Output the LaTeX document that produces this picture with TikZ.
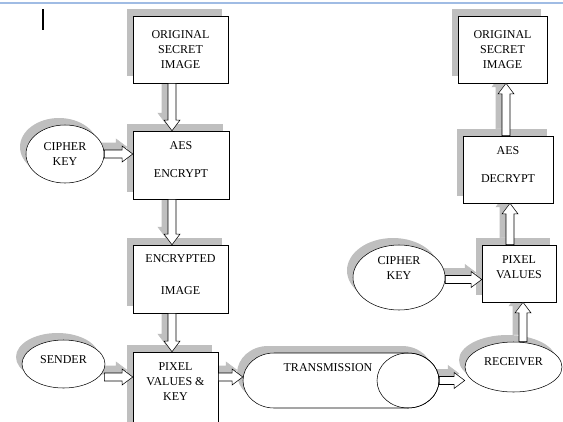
\documentclass[tikz,border=0pt]{standalone}
\usepackage{fontspec}
\setmainfont{Liberation Serif}
\usetikzlibrary{shapes.geometric,shadows,calc,backgrounds}
\definecolor{topline}{RGB}{160,188,228}

\begin{document}
\begin{tikzpicture}[x=0.75pt,y=-0.75pt,
  font=\fontsize{9}{11.25}\selectfont,
  grey/.style={drop shadow={shadow xshift=-4.5pt,shadow yshift=5.25pt,fill=black!25,opacity=1}},
  box/.style={draw,fill=white,grey,align=center,inner sep=0pt},
  oval/.style={ellipse,draw,fill=white,grey,align=center,inner sep=0pt},
  blockarrow/.style={draw,fill=white,to path={let \p1=(\tikztostart),\p2=(\tikztotarget),\p3=($(\p2)!8pt!(\p1)$) in
    ($(\p1)!3pt!90:(\p2)$) -- ($(\p3)!3pt!-90:(\p1)$) -- ($(\p3)!6pt!-90:(\p1)$) -- (\p2)
    -- ($(\p3)!6pt!90:(\p1)$) -- ($(\p3)!3pt!90:(\p1)$) -- ($(\p1)!3pt!-90:(\p2)$) -- cycle}},
  arrowshadow/.style={blockarrow,draw=black!25,fill=black!25,transform canvas={shift={(-4.5pt,5.25pt)}}}
]
\useasboundingbox (0,0) rectangle (563,421);
\draw[color=topline,line width=1.5pt] (0,3) -- (563,3);
\draw[line width=0.9pt] (43,9) -- (43,30);

\node[box,minimum width=71.25pt,minimum height=50.25pt] (origL) at (180.5,49.5) {ORIGINAL\\SECRET\\IMAGE};
\node[box,minimum width=72pt,minimum height=51pt,text depth=8pt] (aesE) at (181,165) {AES\\[9.75pt]ENCRYPT};
\node[box,minimum width=71.25pt,minimum height=51pt,text depth=7pt] (encI) at (180.5,279) {ENCRYPTED\\[12.75pt]IMAGE};
\node[box,minimum width=63.75pt,minimum height=73.5pt,text depth=29pt] (pvk) at (175.5,401) {PIXEL\\VALUES \&\\KEY};
\node[oval,minimum width=58.5pt,minimum height=43.5pt] (cipherL) at (65,154) {CIPHER\\KEY};
\node[oval,minimum width=62.25pt,minimum height=36pt,text depth=7pt] (sender) at (63.5,364) {SENDER};

\fill[black!25,shift={(-6,-7)}] (274,353) -- (408,353) arc[start angle=-90,end angle=90,x radius=31,y radius=27.5]
  -- (274,408) arc[start angle=90,end angle=270,x radius=31,y radius=27.5] -- cycle;
\draw[fill=white] (274,353) -- (408,353) arc[start angle=-90,end angle=90,x radius=31,y radius=27.5]
  -- (274,408) arc[start angle=90,end angle=270,x radius=31,y radius=27.5] -- cycle;
\draw (408,380.5) ellipse[x radius=31,y radius=27.5];
\node[minimum width=147pt,minimum height=41.25pt,inner sep=0pt,
  label={[shift={(-13,-12.5)}]center:TRANSMISSION}] (trans) at (341,380.5) {};

\node[oval,minimum width=72.75pt,minimum height=37.5pt,text depth=8pt] (receiver) at (513.5,367) {RECEIVER};
\node[oval,minimum width=69pt,minimum height=48.75pt,text depth=14pt] (cipherR) at (399,277.5) {CIPHER\\KEY};
\node[box,minimum width=55.5pt,minimum height=42.75pt,text depth=10pt] (pvR) at (519,273.5) {PIXEL\\VALUES};
\node[box,minimum width=67.5pt,minimum height=50.25pt,text depth=8pt] (aesD) at (508,169.5) {AES\\[9.75pt]DECRYPT};
\node[box,minimum width=66.75pt,minimum height=50.25pt] (origR) at (502.5,49.5) {ORIGINAL\\SECRET\\IMAGE};

\coordinate (c1) at ($(origL.south)+(-8.5,0)$);
\coordinate (c2) at ($(aesE.south)+(-9,0)$);
\coordinate (c3) at ($(encI.south)+(-8.5,0)$);
\coordinate (c4) at (cipherL.east);
\coordinate (c5) at ($(sender.east)+(-1,13)$);
\coordinate (c6) at (pvk.east |- c5);
\coordinate (c7) at (trans.east);
\coordinate (c8) at ($(receiver.north)+(9.5,0)$);
\coordinate (c9) at ($(cipherR.east)+(0,2)$);
\coordinate (c10) at ($(pvR.north)+(-9,0)$);
\coordinate (c11) at ($(aesD.north)+(-2,0)$);

\begin{pgfonlayer}{background}
\foreach \a/\b in {c1/c1 |- aesE.north, c2/c2 |- encI.north, c3/c3 |- pvk.north,
  c4/c4 -| aesE.west, c5/c5 -| pvk.west, c6/c6 -| trans.west, c7/c7 -| receiver.west,
  c8/c8 |- pvR.south, c9/c9 -| pvR.west, c10/c10 |- aesD.south, c11/c11 |- origR.south}
  \draw[arrowshadow] (\a) to (\b);
\end{pgfonlayer}
\foreach \a/\b in {c1/c1 |- aesE.north, c2/c2 |- encI.north, c3/c3 |- pvk.north,
  c4/c4 -| aesE.west, c5/c5 -| pvk.west, c6/c6 -| trans.west, c7/c7 -| receiver.west,
  c8/c8 |- pvR.south, c9/c9 -| pvR.west, c10/c10 |- aesD.south, c11/c11 |- origR.south}
  \draw[blockarrow] (\a) to (\b);

\end{tikzpicture}
\end{document}
